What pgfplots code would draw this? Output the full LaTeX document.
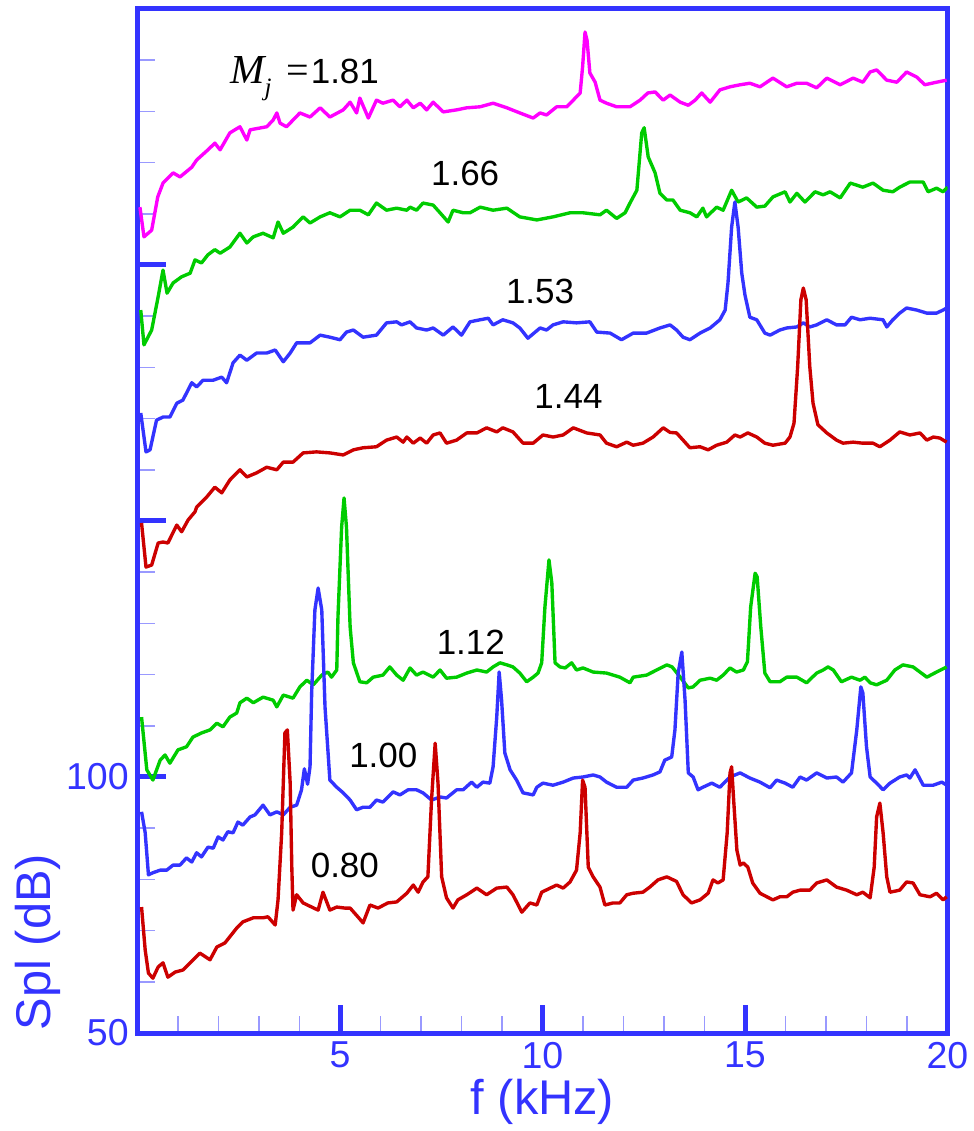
\documentclass[border=0pt]{standalone}
\usepackage{fontspec}
\setmainfont{Liberation Sans}
\newfontfamily\timesfont{Liberation Serif}
\usepackage{pgfplots}
\pgfplotsset{compat=1.18}
\definecolor{axblue}{RGB}{51,51,255}
\definecolor{cmag}{RGB}{255,0,255}
\definecolor{cgreen}{RGB}{0,204,0}
\definecolor{cblue}{RGB}{51,51,255}
\definecolor{cred}{RGB}{204,0,0}

\begin{document}
\begin{tikzpicture}
\path[use as bounding box] (-55pt,-39.2pt) rectangle (334.2pt,413.2pt);
\begin{axis}[
  at={(0,0)}, anchor=south west,
  scale only axis, width=324pt, height=409.6pt,
  xmin=0, xmax=20, ymin=50, ymax=250,
  xtick={5,10,15,20}, xticklabels={5,10,15,20},
  ytick={50,100,150,200}, yticklabels={50,100,,},
  minor xtick={1,2,3,4,6,7,8,9,11,12,13,14,16,17,18,19},
  minor ytick={60,70,80,90,110,120,130,140,160,170,180,190,210,220,230,240},
  tick pos=left, tick align=inside,
  major tick length=11.2pt, minor tick length=6.8pt,
  major tick style={line width=2pt, color=axblue},
  minor tick style={line width=0.6pt, color=axblue!50},
  axis line style={line width=2pt, color=axblue},
  ticklabel style={font=\fontsize{15}{18}\selectfont, text=axblue},
  xlabel={f (kHz)}, ylabel={Spl (dB)},
  label style={font=\fontsize{19.5}{23}\selectfont, text=axblue},
  xlabel style={at={(axis description cs:0.5,-0.0674)}, anchor=center},
  ylabel style={at={(axis description cs:-0.1228,0.0889)}, anchor=center},
  every axis plot/.append style={line width=1.35pt, line join=round},
]
% Mj = 1.81
\addplot[cmag] coordinates {(0.06,211.3)(0.16,205.5)(0.35,206.8)(0.5,213.3)(0.63,216)(0.88,218)(1.05,217.2)(1.34,219.1)(1.46,220.5)(1.74,222.5)(1.91,223.8)(2.04,222.5)(2.28,225.8)(2.53,227)(2.7,224.4)(2.78,226.4)(3.19,227)(3.35,228.3)(3.44,229.7)(3.52,227.7)(3.68,227)(4.01,229.7)(4.26,228.9)(4.51,230.7)(4.75,228.9)(5.08,230.3)(5.25,231.8)(5.41,229.7)(5.49,232.6)(5.7,228.7)(5.9,232.2)(6.06,231.6)(6.31,232.2)(6.48,230.9)(6.65,232.2)(6.81,230.7)(6.98,231.6)(7.14,230.3)(7.3,231.8)(7.55,229.9)(7.88,230.3)(8.13,230.7)(8.46,230.9)(8.78,231.6)(9.12,230.7)(9.44,229.7)(9.77,228.7)(9.94,229.7)(10.1,229.3)(10.35,230.9)(10.6,230.9)(10.76,232.2)(10.93,233.6)(10.99,238.7)(11.05,245.5)(11.1,243.9)(11.17,237.5)(11.3,235.7)(11.42,232.2)(11.58,231.6)(11.83,230.9)(12.16,230.9)(12.41,232.2)(12.6,233.6)(12.78,233.8)(12.98,232.2)(13.15,233.2)(13.4,231.8)(13.6,231.2)(13.77,232.2)(13.93,233.6)(14.14,231.8)(14.38,234.2)(14.63,234.8)(14.88,235.2)(15.12,235.5)(15.37,234.8)(15.69,236.5)(16.03,234.8)(16.28,235.5)(16.52,235.5)(16.77,234.6)(17.02,236.5)(17.35,235.2)(17.67,236.5)(17.91,235.7)(18.09,237.7)(18.25,238.1)(18.5,236.1)(18.75,235.7)(18.99,237.7)(19.24,236.7)(19.44,235.2)(19.73,235.7)(19.98,236.1)};
% Mj = 1.66
\addplot[cgreen] coordinates {(0.08,191.2)(0.16,184.4)(0.35,187.3)(0.51,193.8)(0.63,199)(0.73,194.5)(0.88,196.5)(1.09,197.7)(1.3,198.4)(1.42,201)(1.58,200.4)(1.74,202)(1.91,203)(2.04,202.3)(2.28,203.5)(2.53,206.2)(2.7,204.3)(2.86,205.5)(3.1,206.2)(3.35,205.3)(3.47,208.4)(3.6,206.2)(3.84,207.4)(4.09,209.4)(4.26,208.2)(4.51,209.4)(4.75,210.2)(5.0,209.4)(5.25,210.7)(5.49,210.7)(5.7,209.8)(5.9,212.1)(6.15,210.7)(6.4,211.1)(6.65,210.7)(6.73,211.3)(6.89,210.7)(7.05,212.1)(7.3,211.7)(7.47,210.2)(7.67,208.4)(7.79,210.7)(8.04,210.2)(8.21,210.2)(8.46,211.3)(8.78,210.7)(9.12,211.1)(9.44,209.4)(9.86,208.8)(10.26,209.4)(10.68,210.2)(11.0,210.2)(11.42,209.8)(11.58,210.7)(11.83,209.1)(12.04,210.2)(12.16,212.1)(12.33,214.6)(12.45,225.8)(12.51,226.8)(12.61,221.1)(12.78,218)(12.9,214)(13.07,212.7)(13.22,212.7)(13.4,210.7)(13.64,210.2)(13.81,209.4)(13.96,211.1)(14.05,209.4)(14.3,211.3)(14.46,210.7)(14.67,214.6)(14.83,212.3)(15.04,213.1)(15.29,211.3)(15.49,211.5)(15.69,213.3)(15.99,214.3)(16.11,212.3)(16.28,214)(16.48,212.3)(16.73,214.3)(16.93,213.7)(17.1,214.3)(17.35,213.1)(17.6,216)(17.91,215.2)(18.16,216)(18.41,214.6)(18.65,214.3)(18.82,215.2)(19.07,216.2)(19.4,216.2)(19.52,214.3)(19.73,215)(19.89,214.3)(20.0,215.2)};
% Mj = 1.53
\addplot[cblue] coordinates {(0.08,171.1)(0.21,163.5)(0.31,163.9)(0.47,169.7)(0.63,170.3)(0.8,170.3)(0.97,173)(1.12,173.6)(1.34,177)(1.46,176.2)(1.62,177.5)(1.87,177.5)(2.08,178.1)(2.2,177)(2.36,180.9)(2.53,182.4)(2.7,181.4)(2.94,182.8)(3.19,182.8)(3.4,183.4)(3.6,181.1)(3.77,182.8)(3.93,184.8)(4.26,184.8)(4.51,186.3)(4.75,185.9)(5.0,185.4)(5.16,186.9)(5.33,187.3)(5.57,185.9)(5.9,186.3)(6.15,188.7)(6.4,188.9)(6.52,188.3)(6.73,188.9)(6.89,187.7)(7.14,187.3)(7.3,187.7)(7.55,186.3)(7.79,187.9)(8.0,186.3)(8.21,188.9)(8.46,189.3)(8.66,189.6)(8.78,188.3)(9.02,189.3)(9.27,188.7)(9.44,187.7)(9.64,185.7)(9.94,187.7)(10.1,187.3)(10.26,188.3)(10.51,188.9)(10.84,188.7)(11.17,188.9)(11.34,186.9)(11.67,186.7)(11.95,185.4)(12.24,186.7)(12.57,186.7)(12.9,187.7)(13.15,188.3)(13.31,187.3)(13.47,185.9)(13.64,185.4)(13.89,186.7)(14.14,187.7)(14.38,189.3)(14.51,191.2)(14.58,196.5)(14.67,207.4)(14.75,212.3)(14.83,207.4)(14.92,198.4)(15.0,194.1)(15.12,189.8)(15.29,189.3)(15.49,186.7)(15.62,186.3)(15.86,187.3)(16.03,187.7)(16.28,187.9)(16.44,188.7)(16.6,187.9)(16.77,188.3)(17.02,189.3)(17.26,188.3)(17.47,188.3)(17.63,189.8)(17.84,189.3)(18.09,189.6)(18.41,189.3)(18.5,187.9)(18.65,189.3)(18.82,190.6)(18.99,191.6)(19.24,191.2)(19.49,190.6)(19.73,190.6)(19.89,191.2)(19.98,191.6)};
% Mj = 1.44
\addplot[cred] coordinates {(0.1,149.6)(0.21,141)(0.35,141.4)(0.51,145.7)(0.63,145.9)(0.75,145.7)(0.97,149.2)(1.09,147.9)(1.25,150.2)(1.42,151.8)(1.46,152.7)(1.71,154.7)(1.91,156.6)(2.08,155.5)(2.28,158)(2.53,160)(2.7,158.6)(2.94,159.4)(3.19,160.5)(3.44,160)(3.6,161.5)(3.84,161.5)(4.09,163.3)(4.42,163.5)(4.75,163.3)(5.08,162.9)(5.33,163.9)(5.57,164.3)(5.9,164.5)(6.15,165.8)(6.4,166.4)(6.56,165.4)(6.65,166.4)(6.81,165.2)(6.98,166.2)(7.14,165.2)(7.3,166.8)(7.47,167.2)(7.63,165.2)(7.88,165.8)(8.13,167.2)(8.38,167.2)(8.62,168.2)(8.87,167.4)(9.02,168.2)(9.27,167.4)(9.52,165.2)(9.77,165.2)(10.01,166.8)(10.26,166.4)(10.51,166.8)(10.76,168.2)(11.09,167.2)(11.42,166.8)(11.58,165.2)(11.83,164.5)(12.08,165.4)(12.24,164.8)(12.48,165.2)(12.73,166.4)(12.98,168.2)(13.15,167.3)(13.31,167.2)(13.47,165.8)(13.64,164.3)(13.89,164.5)(14.09,163.9)(14.3,164.8)(14.55,165.4)(14.75,166.8)(14.88,166.4)(15.07,167.2)(15.29,166.4)(15.49,165.2)(15.69,164.8)(15.99,165.2)(16.11,166.4)(16.21,169.1)(16.3,180.1)(16.38,193.2)(16.44,195.5)(16.51,193.2)(16.6,180.1)(16.68,173)(16.8,168.8)(17.02,167.2)(17.26,165.8)(17.42,165.2)(17.67,165.4)(17.91,165.2)(18.16,165.2)(18.33,164.5)(18.58,165.8)(18.82,167.4)(19.07,166.8)(19.32,167.2)(19.49,165.8)(19.65,166.4)(19.81,166.2)(19.98,165.4)};
% Mj = 1.12
\addplot[cgreen] coordinates {(0.1,111.7)(0.23,101.4)(0.38,99.4)(0.56,103.3)(0.68,104.3)(0.8,102.7)(1.0,105.3)(1.21,105.9)(1.37,107.8)(1.58,108.6)(1.79,109.2)(1.96,110.5)(2.11,109.8)(2.28,111.7)(2.45,112.5)(2.53,114.5)(2.7,115.4)(2.86,114.5)(3.1,115.6)(3.35,115)(3.44,113.7)(3.6,116)(3.84,115.4)(4.01,117.6)(4.18,118.9)(4.34,118)(4.55,119.9)(4.7,120.5)(4.79,119.5)(4.92,120.9)(4.95,131.3)(5.04,148.8)(5.1,154.5)(5.16,148.8)(5.25,129.3)(5.33,122.3)(5.49,118.6)(5.66,118.4)(5.82,119.5)(6.06,119.9)(6.23,121.5)(6.4,119.9)(6.56,118.9)(6.73,121.3)(6.89,119.9)(7.05,120.5)(7.3,119.5)(7.47,120.9)(7.63,119.3)(7.88,119.5)(8.13,120.3)(8.38,120.9)(8.62,120.5)(8.78,121.5)(8.95,122.3)(9.12,121.9)(9.27,121.5)(9.44,120.3)(9.61,118.6)(9.77,119.5)(9.89,120.3)(9.98,122.3)(10.06,133.2)(10.16,142.4)(10.23,137.9)(10.31,122.3)(10.43,121.5)(10.56,121.3)(10.72,122.3)(10.84,120.9)(11.0,121.3)(11.25,120.5)(11.58,120.3)(11.91,119.5)(12.16,118.4)(12.24,119.5)(12.57,119.9)(12.82,120.9)(13.07,121.9)(13.2,121.5)(13.4,119.5)(13.6,117.4)(13.72,117.6)(13.89,118.9)(14.14,119.3)(14.3,118.9)(14.46,119.9)(14.63,121.3)(14.79,120.5)(14.96,120.9)(15.06,122.5)(15.14,133.2)(15.25,139.8)(15.3,139.1)(15.39,129.3)(15.49,120.3)(15.62,118.6)(15.86,118.6)(16.03,119.5)(16.28,119.5)(16.52,118.4)(16.77,120.3)(16.93,120.9)(17.05,121.5)(17.18,120.9)(17.38,118.6)(17.63,119.5)(17.84,118.9)(17.96,119.5)(18.09,118.4)(18.25,118)(18.5,118.9)(18.7,120.9)(18.9,121.9)(19.15,121.5)(19.49,119.5)(19.73,120.5)(19.98,121.5)};
% Mj = 1.00
\addplot[cblue] coordinates {(0.1,93.2)(0.19,89.1)(0.27,80.9)(0.38,81.3)(0.56,81.8)(0.72,81.8)(0.88,82.8)(1.05,82.8)(1.21,84.2)(1.34,83.4)(1.46,85.2)(1.58,84.4)(1.74,86.3)(1.87,86.1)(1.99,88.3)(2.11,87.7)(2.23,89.3)(2.36,89.1)(2.48,91.2)(2.6,90.6)(2.78,92.2)(2.9,92.6)(3.1,94.5)(3.27,92.6)(3.44,93.2)(3.6,92.6)(3.77,94.1)(3.93,94.5)(4.05,97.5)(4.12,101.6)(4.2,98.6)(4.26,102)(4.3,116.4)(4.38,132.6)(4.46,136.9)(4.55,132.6)(4.63,113.7)(4.75,99.4)(4.92,98)(5.08,96.9)(5.25,95.5)(5.41,93.6)(5.57,94.1)(5.74,94.1)(5.9,95.5)(6.06,95.1)(6.31,97.1)(6.48,96.5)(6.68,97.5)(6.89,97.5)(7.05,96.9)(7.26,95.5)(7.47,96.1)(7.63,95.9)(7.88,97.5)(8.04,97.5)(8.25,99)(8.38,98)(8.53,99)(8.7,98.8)(8.78,102)(8.87,111.7)(8.93,120.5)(8.99,115)(9.07,104.7)(9.2,101.4)(9.36,99.4)(9.52,96.9)(9.77,96.5)(9.86,98)(10.01,98.8)(10.26,98.4)(10.51,99)(10.76,99.8)(11.0,100)(11.25,100.4)(11.42,100)(11.58,99)(11.83,98)(12.08,98)(12.24,99.4)(12.48,99.8)(12.73,100.4)(12.9,101)(13.02,103.3)(13.19,103.9)(13.27,109.2)(13.35,120.3)(13.44,124.4)(13.52,115)(13.6,100.8)(13.72,100)(13.84,97.5)(13.96,98)(14.18,98.8)(14.38,98)(14.63,100)(14.88,100.8)(15.12,99.8)(15.37,99)(15.62,97.9)(15.78,99.4)(15.99,98.8)(16.18,98)(16.36,100)(16.52,99.4)(16.77,100.8)(17.02,99.8)(17.26,100)(17.42,99)(17.63,100.8)(17.76,109.2)(17.86,117.6)(17.91,116.4)(18.0,105.9)(18.09,100)(18.25,98.8)(18.41,97.5)(18.58,98.8)(18.82,100)(18.99,100.4)(19.07,99.8)(19.2,101.4)(19.4,98.4)(19.65,98.4)(19.86,99)(19.98,98.4)};
% Mj = 0.80
\addplot[cred] coordinates {(0.1,74.6)(0.19,66.2)(0.27,61.7)(0.38,60.7)(0.51,62.9)(0.63,63.7)(0.75,60.9)(0.93,61.9)(1.12,62.3)(1.3,63.7)(1.54,65.6)(1.79,64.3)(1.96,66.8)(2.16,67.6)(2.28,68.8)(2.45,70.5)(2.6,71.7)(2.86,72.5)(3.1,72.5)(3.22,72.7)(3.4,71.1)(3.47,76)(3.56,89.1)(3.64,108.6)(3.7,109.2)(3.77,98.8)(3.81,82.4)(3.84,74)(3.93,77)(4.09,75.4)(4.3,74.6)(4.46,74)(4.58,77.5)(4.75,74)(4.92,74.6)(5.12,74.4)(5.25,74.4)(5.44,72.7)(5.57,71.5)(5.74,75)(5.94,74.4)(6.18,75.4)(6.4,75.6)(6.65,77.3)(6.81,78.9)(6.93,77.5)(7.05,79.5)(7.17,80.5)(7.26,95.5)(7.35,106.6)(7.42,98.8)(7.51,80.5)(7.63,76.4)(7.79,74.4)(7.91,76)(8.13,77)(8.38,78.3)(8.62,77)(8.87,78.3)(9.12,78.5)(9.27,77)(9.49,73.6)(9.69,75.4)(9.86,75)(9.98,77.5)(10.19,78.3)(10.35,78.9)(10.51,78.3)(10.68,79.5)(10.84,81.8)(10.93,89.1)(10.99,99.4)(11.05,98)(11.13,82.4)(11.25,80.5)(11.42,78.5)(11.54,75)(11.74,75.4)(11.91,75.4)(12.08,77)(12.24,77.3)(12.48,77.5)(12.65,78.5)(12.85,79.9)(13.07,80.5)(13.31,79.6)(13.47,77)(13.68,75.4)(13.89,76)(14.09,77.3)(14.21,79.9)(14.33,79.3)(14.46,79.9)(14.56,89.1)(14.63,100.8)(14.67,102)(14.72,95.5)(14.8,85.7)(14.88,82.8)(14.96,83.2)(15.07,82.4)(15.19,79.3)(15.37,77.3)(15.54,76.6)(15.69,76)(15.86,76.6)(16.03,76.6)(16.18,77.5)(16.36,77.9)(16.6,77.9)(16.77,79.3)(17.02,79.9)(17.26,78.5)(17.51,77.9)(17.76,77)(17.91,77.5)(18.09,76.4)(18.19,82.4)(18.25,92.2)(18.33,94.9)(18.41,89.1)(18.5,80.5)(18.58,77.5)(18.82,77.9)(18.99,79.5)(19.15,79.3)(19.32,77)(19.57,76.6)(19.73,77.3)(19.89,76)(19.98,76.6)};
% curve labels
\begin{scope}[every node/.style={font=\fontsize{14}{16}\selectfont, text=black, inner sep=0pt}]
\node[anchor=base west] at (axis cs:2.28,235.5) {{\timesfont\itshape\fontsize{16.5}{18}\selectfont M}\raisebox{-5pt}{\timesfont\itshape\fontsize{10}{10}\selectfont j}};
\node[anchor=base] at (axis cs:3.95,235.5) {\timesfont\fontsize{16}{18}\selectfont =};
\node[anchor=base] at (axis cs:5.12,235.5) {1.81};
\node at (axis cs:8.09,217.9) {1.66};
\node at (axis cs:9.94,194.8) {1.53};
\node at (axis cs:10.64,174.3) {1.44};
\node at (axis cs:8.23,126.3) {1.12};
\node at (axis cs:6.07,104.2) {1.00};
\node at (axis cs:5.12,82.7) {0.80};
\end{scope}
\end{axis}
\end{tikzpicture}
\end{document}
